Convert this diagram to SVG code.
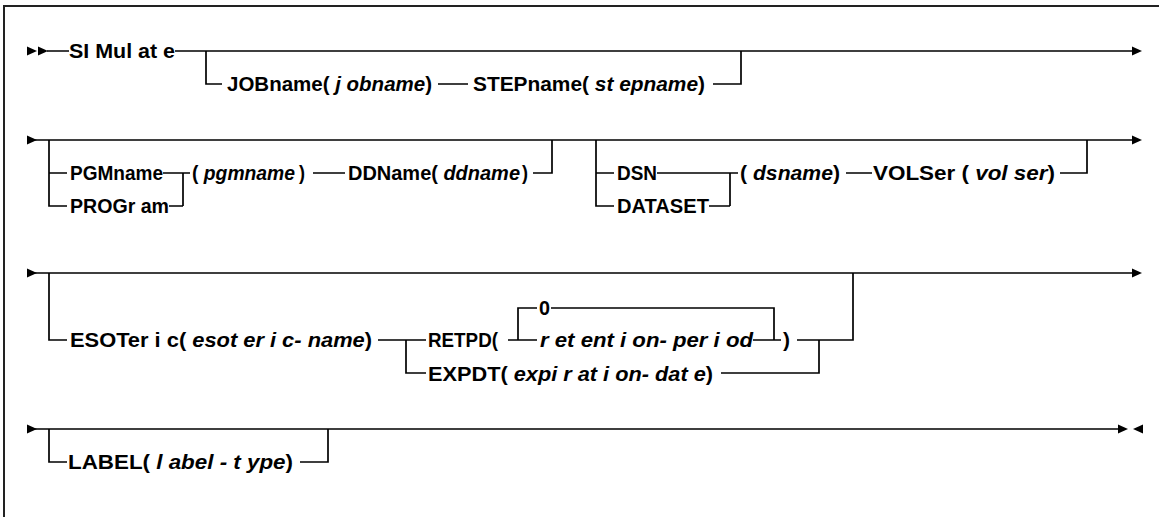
<svg xmlns="http://www.w3.org/2000/svg" width="1159" height="517" viewBox="0 0 1159 517">
<style>
text{font-family:"Liberation Sans",Arial,sans-serif;font-weight:bold;font-size:21px;fill:#000}
.i{font-style:italic}
.sm{font-size:19.5px}
.ln{fill:none;stroke:#000;stroke-width:1.7}
.frame{fill:none;stroke:#222;stroke-width:2}
.ah{fill:#000}
</style>
<defs>
<polygon id="ar" points="0,-4.5 10,0 0,4.5"/>
<polygon id="al" points="10,-4.5 0,0 10,4.5"/>
</defs>
<rect class="frame" x="4" y="6" width="1200" height="600"/>
<g id="connectors">
<use href="#ar" class="ah" x="27" y="51"/>
<use href="#ar" class="ah" x="38" y="51"/>
<path class="ln" d="M47 51 H69 M175 51 H1132 M206 51 V84 H222 M438 84 H468 M713 84 H741 V51"/>
<use href="#ar" class="ah" x="1132" y="51"/>
<use href="#ar" class="ah" x="27" y="140"/>
<path class="ln" d="M35 140 H1132 M49 140 V206 H67 M49 173 H67 M163 173 H183 M169 206 H183 M183 173 V206 M183 173 H190 M313 173 H345 M533 173 H552 V140 M596 140 V206 H614 M596 173 H614 M657 173 H730 M709 206 H730 M730 173 V206 M730 173 H738 M846 173 H872 M1060 173 H1087 V140"/>
<use href="#ar" class="ah" x="1132" y="140"/>
<use href="#ar" class="ah" x="27" y="273"/>
<path class="ln" d="M35 273 H1132 M49 273 V340 H67 M378 340 H426 M406 340 V373 H426 M508 340 H537 M518 340 V308 H537 M551 308 H774 V340 M753 340 H781 M797 340 H853 V273 M721 373 H819 V340"/>
<use href="#ar" class="ah" x="1132" y="273"/>
<use href="#ar" class="ah" x="27" y="429"/>
<path class="ln" d="M35 429 H1118 M49 429 V462 H67 M300 462 H328 V429"/>
<use href="#ar" class="ah" x="1118" y="429"/>
<use href="#al" class="ah" x="1133" y="429"/>
</g>
<g id="simulate"><text x="69" y="58" textLength="106" lengthAdjust="spacingAndGlyphs">SI Mul at e</text></g>
<g id="jobname"><text x="227" y="91" textLength="205" lengthAdjust="spacingAndGlyphs">JOBname( <tspan class="i">j obname</tspan>)</text></g>
<g id="stepname"><text x="473" y="91" textLength="232" lengthAdjust="spacingAndGlyphs">STEPname( <tspan class="i">st epname</tspan>)</text></g>
<g id="pgmname"><text x="70" y="180" textLength="93" lengthAdjust="spacingAndGlyphs">PGMname</text></g>
<g id="program"><text x="70" y="213" textLength="99" lengthAdjust="spacingAndGlyphs">PROGr am</text></g>
<g id="pgmarg"><text class="sm" x="192" y="180" textLength="103" lengthAdjust="spacingAndGlyphs">( <tspan class="i">pgmname</tspan></text><text x="299" y="180" textLength="6" lengthAdjust="spacingAndGlyphs">)</text></g>
<g id="ddname"><text x="348" y="180" textLength="172" lengthAdjust="spacingAndGlyphs">DDName( <tspan class="i">ddname</tspan></text><text x="522" y="180" textLength="6" lengthAdjust="spacingAndGlyphs">)</text></g>
<g id="dsn"><text x="617" y="180" textLength="40" lengthAdjust="spacingAndGlyphs">DSN</text></g>
<g id="dataset"><text x="617" y="213" textLength="92" lengthAdjust="spacingAndGlyphs">DATASET</text></g>
<g id="dsname"><text x="740" y="180" textLength="100" lengthAdjust="spacingAndGlyphs">( <tspan class="i">dsname</tspan>)</text></g>
<g id="volser"><text x="873" y="180" textLength="182" lengthAdjust="spacingAndGlyphs">VOLSer ( <tspan class="i">vol ser</tspan>)</text></g>
<g id="esoteric"><text x="70" y="347" textLength="302" lengthAdjust="spacingAndGlyphs">ESOTer i c( <tspan class="i">esot er i c- name</tspan>)</text></g>
<g id="retpd"><text x="428" y="347" textLength="70" lengthAdjust="spacingAndGlyphs">RETPD(</text></g>
<g id="zero"><text x="539" y="315" textLength="11" lengthAdjust="spacingAndGlyphs">0</text></g>
<g id="retention"><text class="i" x="540" y="347" textLength="213" lengthAdjust="spacingAndGlyphs">r et ent i on- per i od</text></g>
<g id="rparen"><text x="783" y="347" textLength="7" lengthAdjust="spacingAndGlyphs">)</text></g>
<g id="expdt"><text x="428" y="380.5" textLength="285" lengthAdjust="spacingAndGlyphs">EXPDT( <tspan class="i">expi r at i on- dat e</tspan>)</text></g>
<g id="label"><text x="68" y="469" textLength="225" lengthAdjust="spacingAndGlyphs">LABEL( <tspan class="i">l abel - t ype</tspan>)</text></g>
</svg>
